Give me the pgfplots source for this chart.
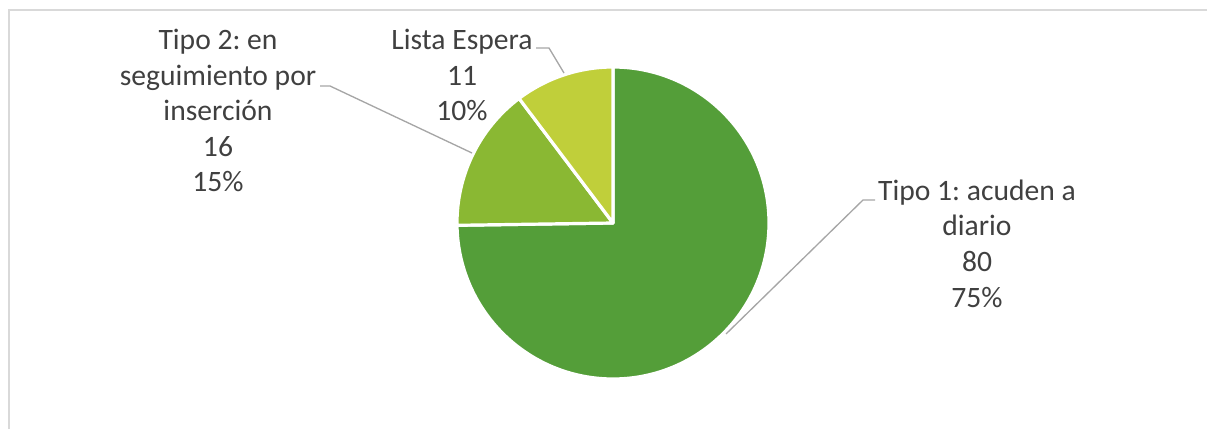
\documentclass[border=0pt]{standalone}
\usepackage{pgfplots}
\usepackage{pgfplotstable}
\pgfplotsset{compat=1.18}
\usepackage{fontspec}
\setmainfont{Carlito}
\frenchspacing
\definecolor{cA}{HTML}{549E39}
\definecolor{cB}{HTML}{8AB833}
\definecolor{cC}{HTML}{C0CF3A}
\definecolor{txt}{HTML}{404040}
\definecolor{lead}{HTML}{A6A6A6}
\definecolor{frame}{HTML}{D9D9D9}
\pgfplotstableread{
label value
T1 80
T2 16
LE 11
}\piedata
\pgfplotstablegetelem{0}{value}\of\piedata \let\va\pgfplotsretval
\pgfplotstablegetelem{1}{value}\of\piedata \let\vb\pgfplotsretval
\pgfplotstablegetelem{2}{value}\of\piedata \let\vc\pgfplotsretval
\pgfmathsetmacro{\tot}{\va+\vb+\vc}
\pgfmathsetmacro{\aA}{90-360*(\va/\tot)}
\pgfmathsetmacro{\aB}{\aA-360*(\vb/\tot)}
\pgfmathsetmacro{\aC}{\aB-360*(\vc/\tot)}
\begin{document}
\frenchspacing
\begin{tikzpicture}
\begin{axis}[width=905.25pt,height=321.75pt,scale only axis,
  xmin=0,xmax=1207,ymin=0,ymax=429,hide axis,clip=false]
\path[use as bounding box] (axis cs:0,0) rectangle (axis cs:1207,429);
\draw[frame,line width=0.9pt] (axis cs:9,0) -- (axis cs:9,419) -- (axis cs:1207,419);
\def\R{117pt}
\filldraw[fill=cA,draw=white,line width=2.4pt,line join=round] (axis cs:613,206) -- ++(90:\R) arc[start angle=90,end angle=\aA,radius=\R] -- cycle;
\filldraw[fill=cB,draw=white,line width=2.4pt,line join=round] (axis cs:613,206) -- ++(\aA:\R) arc[start angle=\aA,end angle=\aB,radius=\R] -- cycle;
\filldraw[fill=cC,draw=white,line width=2.4pt,line join=round] (axis cs:613,206) -- ++(\aB:\R) arc[start angle=\aB,end angle=\aC,radius=\R] -- cycle;
% leader lines
\draw[lead,line width=1pt] (axis cs:726,95) -- (axis cs:863,229) -- (axis cs:875,229);
\draw[lead,line width=1pt] (axis cs:472,276) -- (axis cs:330,343) -- (axis cs:320,343);
\draw[lead,line width=1pt] (axis cs:564,356) -- (axis cs:549,381) -- (axis cs:536,381);
% labels
\tikzset{lbl/.style={anchor=base,text=txt,inner sep=0pt,font=\fontsize{22.2}{26}\selectfont\frenchspacing}}
\node[lbl] at (axis cs:977,228) {Tipo 1: acuden a};
\node[lbl] at (axis cs:977,193) {diario};
\node[lbl] at (axis cs:977,157.5) {80};
\node[lbl] at (axis cs:977,122) {75\%};
\node[lbl] at (axis cs:218,379) {Tipo 2: en};
\node[lbl] at (axis cs:218,343.5) {seguimiento por};
\node[lbl] at (axis cs:218,308) {inserción};
\node[lbl] at (axis cs:218,272.5) {16};
\node[lbl] at (axis cs:218,237) {15\%};
\node[lbl] at (axis cs:462,379) {Lista Espera};
\node[lbl] at (axis cs:462,343.5) {11};
\node[lbl] at (axis cs:462,308) {10\%};
\end{axis}
\end{tikzpicture}
\end{document}
